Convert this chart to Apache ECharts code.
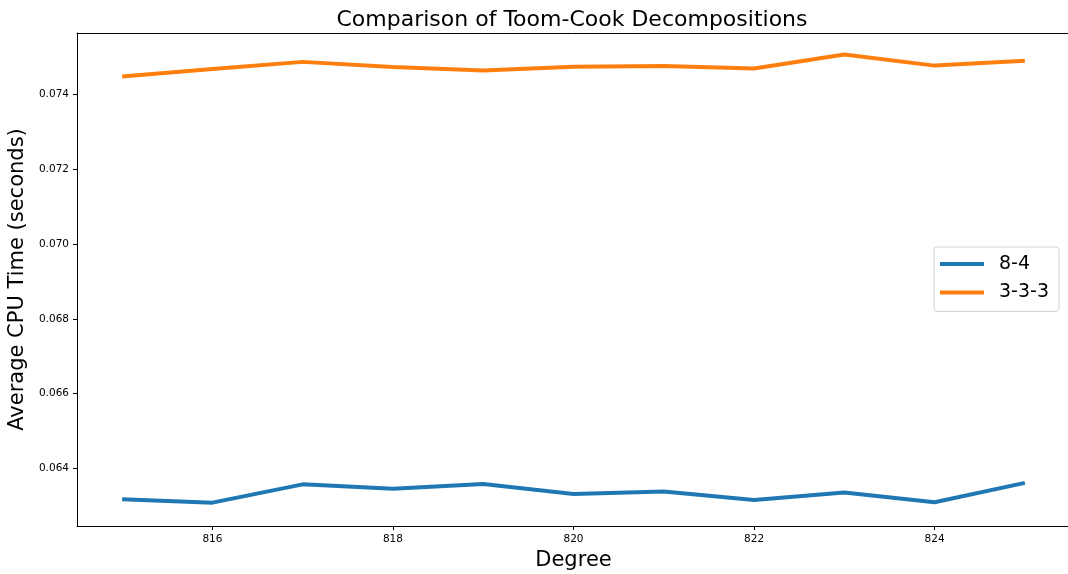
<!DOCTYPE html>
<html>
<head>
<meta charset="utf-8">
<script src="https://cdn.jsdelivr.net/npm/echarts@6/dist/echarts.min.js"></script>
<style>
html,body{margin:0;padding:0;background:#fff;overflow:hidden;}
#chart{width:1068px;height:574px;}
</style>
</head>
<body>
<div id="chart"></div>
<script>
const degrees = [815, 816, 817, 818, 819, 820, 821, 822, 823, 824, 825];
const series84 = [0.06317, 0.06308, 0.06357, 0.06345, 0.06358, 0.06331, 0.06338, 0.06315, 0.06335, 0.06309, 0.06361];
const series333 = [0.07449, 0.07469, 0.07488, 0.07474, 0.07465, 0.07475, 0.07477, 0.07470, 0.07508, 0.07478, 0.07491];
const xTicks = [816, 818, 820, 822, 824];
const yTicks = [0.064, 0.066, 0.068, 0.070, 0.072, 0.074];
const seriesNames = ['8-4', '3-3-3'];

const font = 'DejaVu Sans';
const chart = echarts.init(document.getElementById('chart'), null, {renderer: 'canvas'});
chart.setOption({
  backgroundColor: '#ffffff',
  animation: false,
  title: {
    text: 'Comparison of Toom-Cook Decompositions',
    left: 567, top: 4, textAlign: 'center',
    textStyle: {fontFamily: font, fontSize: 22, fontWeight: 'normal', color: '#000'}
  },
  grid: {left: 77, top: 33, width: 993, height: 493, show: false, containLabel: false, outerBoundsMode: 'none'},
  legend: {
    orient: 'vertical', left: 934, top: 247,
    data: seriesNames.map(n => ({name: n, icon: 'rect'})),
    itemWidth: 44, itemHeight: 4, itemGap: 6.4,
    padding: [6, 10, 8, 6],
    borderColor: '#d4d4d4', borderWidth: 1, borderRadius: 3,
    backgroundColor: 'rgba(255,255,255,0.8)',
    textStyle: {fontFamily: font, fontSize: 19, color: '#000', lineHeight: 22, padding: [0, 0, 0, 10]}
  },
  xAxis: [{
    type: 'value', min: 814.5, max: 825.5, position: 'bottom',
    name: 'Degree', nameLocation: 'middle', nameGap: 21,
    nameTextStyle: {fontFamily: font, fontSize: 21, color: '#000'},
    axisLine: {show: true, onZero: false, lineStyle: {color: '#000', width: 1}},
    axisTick: {show: true, length: 4, lineStyle: {color: '#000'}, customValues: xTicks},
    axisLabel: {fontFamily: font, fontSize: 10.5, color: '#000', margin: 8, customValues: xTicks, formatter: v => String(v)},
    splitLine: {show: false}
  }, {
    type: 'value', min: 814.5, max: 825.5, position: 'top',
    axisLine: {show: true, onZero: false, lineStyle: {color: '#000', width: 1}},
    axisTick: {show: false}, axisLabel: {show: false}, splitLine: {show: false}
  }],
  yAxis: {
    type: 'value', min: 0.062455, max: 0.075653,
    name: 'Average CPU Time (seconds)', nameLocation: 'middle', nameGap: 40,
    nameTextStyle: {fontFamily: font, fontSize: 21, color: '#000'},
    axisLine: {show: true, onZero: false, lineStyle: {color: '#000', width: 1}},
    axisTick: {show: true, length: 4, lineStyle: {color: '#000'}, customValues: yTicks},
    axisLabel: {fontFamily: font, fontSize: 10.5, color: '#000', margin: 8, customValues: yTicks, formatter: v => v.toFixed(3)},
    splitLine: {show: false}
  },
  series: [
    {name: seriesNames[0], type: 'line', xAxisIndex: 0, data: degrees.map((d, i) => [d, series84[i]]), showSymbol: false, symbol: 'none',
     lineStyle: {width: 4, color: '#1f77b4'}, itemStyle: {color: '#1f77b4'}},
    {name: seriesNames[1], type: 'line', xAxisIndex: 0, data: degrees.map((d, i) => [d, series333[i]]), showSymbol: false, symbol: 'none',
     lineStyle: {width: 4, color: '#ff7f0e'}, itemStyle: {color: '#ff7f0e'}}
  ]
});
</script>
</body>
</html>
